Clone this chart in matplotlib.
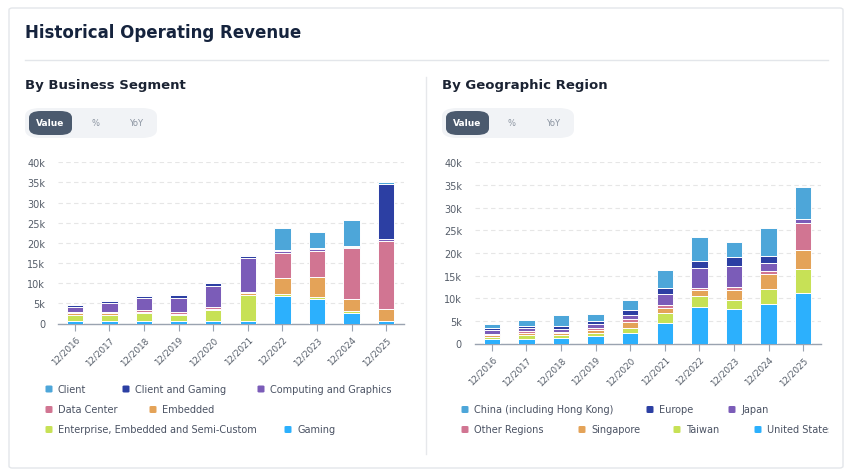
import matplotlib
matplotlib.use("Agg")
import matplotlib.pyplot as plt
from matplotlib.patches import FancyBboxPatch
from matplotlib.lines import Line2D
from matplotlib.ticker import FuncFormatter, MultipleLocator

plt.rcParams['font.family'] = ['DejaVu Sans']

W, H = 852, 477

years = ['12/2016', '12/2017', '12/2018', '12/2019', '12/2020',
         '12/2021', '12/2022', '12/2023', '12/2024', '12/2025']

# business segment, in thousands (k)
gaming        = [0.6, 0.6, 0.6, 0.6, 0.6, 0.65, 6.8, 6.0, 2.6, 0.65]
enterprise    = [1.4, 1.5, 1.9, 1.4, 2.65, 6.35, 0.6, 0.6, 0.5, 0.0]
embedded      = [0.5, 0.5, 0.45, 0.45, 0.45, 0.45, 3.85, 5.0, 3.0, 2.85]
data_center   = [0.25, 0.3, 0.3, 0.3, 0.3, 0.35, 6.25, 6.5, 12.55, 16.9]
comp_graphics = [1.4, 2.2, 3.1, 3.65, 5.4, 8.4, 0.4, 0.35, 0.3, 0.5]
client_gaming = [0.45, 0.5, 0.55, 0.6, 0.65, 0.6, 0.35, 0.3, 0.3, 13.7]
client        = [0.1, 0.2, 0.1, 0.2, 0.15, 0.1, 5.45, 3.95, 6.55, 0.6]

# geographic region, in thousands (k)
united_states = [0.9, 1.1, 1.2, 1.7, 2.35, 4.5, 8.1, 7.7, 8.7, 11.25]
taiwan        = [0.6, 0.75, 0.65, 0.65, 1.1, 2.2, 2.3, 1.9, 3.3, 5.15]
singapore     = [0.3, 0.45, 0.4, 0.6, 1.25, 1.2, 1.3, 2.2, 3.4, 4.3]
other_regions = [0.25, 0.4, 0.35, 0.55, 0.6, 0.55, 0.65, 0.7, 0.6, 6.0]
japan         = [0.9, 0.7, 0.7, 0.75, 1.1, 2.5, 4.35, 4.5, 1.7, 0.7]
europe        = [0.55, 0.5, 0.6, 0.65, 1.0, 1.4, 1.6, 2.2, 1.7, 0.1]
china         = [0.75, 1.25, 2.4, 1.7, 2.3, 3.9, 5.15, 3.2, 6.1, 7.1]

c_blue = '#4da6d9'
c_navy = '#2c3fa3'
c_purple = '#7b5cb8'
c_pink = '#d17592'
c_orange = '#e4a358'
c_lime = '#c7e156'
c_sky = '#2cb0fd'

seg_names = ['Client', 'Client and Gaming', 'Computing and Graphics', 'Data Center',
             'Embedded', 'Enterprise, Embedded and Semi-Custom', 'Gaming']
seg_vals = [client, client_gaming, comp_graphics, data_center, embedded, enterprise, gaming]
reg_names = ['China (including Hong Kong)', 'Europe', 'Japan', 'Other Regions',
             'Singapore', 'Taiwan', 'United States']
reg_vals = [china, europe, japan, other_regions, singapore, taiwan, united_states]
colors = [c_blue, c_navy, c_purple, c_pink, c_orange, c_lime, c_sky]

fig = plt.figure(figsize=(W / 100, H / 100), dpi=100)
fig.patch.set_facecolor('white')

def fx(px):
    return px / W

def fy(py):
    return 1 - py / H

# card border
fig.patches.append(FancyBboxPatch((fx(9), fy(469)), fx(834), 460 / H,
                                  boxstyle='round,pad=0,rounding_size=0.004',
                                  transform=fig.transFigure, fc='none', ec='#e3e6ea', lw=1))
fig.text(fx(25), fy(33), 'Historical Operating Revenue', fontsize=12, fontweight='bold',
         color='#15233d', va='center')
fig.add_artist(Line2D([fx(25), fx(828)], [fy(61), fy(61)], color='#e3e6ea', lw=1))
fig.add_artist(Line2D([fx(426), fx(426)], [fy(78), fy(455)], color='#e6e8eb', lw=1))


def panel(x0, title, left, zero_y, names, vals, legend_pos):
    fig.text(fx(x0), fy(85), title, fontsize=9.5, fontweight='bold', color='#1b2333', va='center')
    # toggle
    fig.patches.append(FancyBboxPatch((fx(x0), fy(139)), fx(132), 30 / H,
                                      boxstyle='round,pad=0,rounding_size=0.018',
                                      transform=fig.transFigure, fc='#f1f3f6', ec='none'))
    fig.patches.append(FancyBboxPatch((fx(x0 + 4), fy(136)), fx(43), 24 / H,
                                      boxstyle='round,pad=0,rounding_size=0.014',
                                      transform=fig.transFigure, fc='#4b5a6e', ec='none'))
    fig.text(fx(x0 + 25.5), fy(124), 'Value', fontsize=6.5, fontweight='bold', color='white',
             ha='center', va='center')
    fig.text(fx(x0 + 70), fy(124), '%', fontsize=6, color='#8a93a0', ha='center', va='center')
    fig.text(fx(x0 + 111), fy(124), 'YoY', fontsize=6, color='#8a93a0', ha='center', va='center')

    ax = fig.add_axes([fx(left), fy(zero_y), fx(346), (zero_y - 163.3) / H])
    ax.set_facecolor('none')
    x = list(range(len(years)))
    bottom = [0.0] * len(years)
    for name, v, col in zip(names[::-1], vals[::-1], colors[::-1]):
        ax.bar(x, v, 0.47, bottom=bottom, color=col, edgecolor='white', linewidth=0.7, zorder=3)
        bottom = [b + a for b, a in zip(bottom, v)]
    ax.set_xlim(-0.5, 9.5)
    ax.set_ylim(0, 40)
    ax.yaxis.set_major_locator(MultipleLocator(5))
    ax.yaxis.set_major_formatter(FuncFormatter(lambda v, p: '0' if v == 0 else '%dk' % v))
    ax.grid(axis='y', color='#e6e6e6', linestyle=(0, (4, 3)), lw=0.8, zorder=0)
    for s in ['top', 'right', 'left']:
        ax.spines[s].set_visible(False)
    ax.spines['bottom'].set_color('#9aa3b0')
    ax.spines['bottom'].set_linewidth(1)
    ax.set_xticks(x)
    ax.set_xticklabels(years, rotation=45, ha='right', rotation_mode='anchor',
                       fontsize=6.3, color='#555d69')
    ax.tick_params(axis='x', length=5, color='#9aa3b0', pad=3)
    ax.tick_params(axis='y', length=0, labelsize=7, labelcolor='#555d69', pad=9)

    for (mx, my), name, col in zip(legend_pos, names, colors):
        fig.patches.append(FancyBboxPatch((fx(mx - 3.5), fy(my + 3.5)), fx(7), 7 / H,
                                          boxstyle='round,pad=0,rounding_size=0.002',
                                          transform=fig.transFigure, fc=col, ec='none'))
        fig.text(fx(mx + 9), fy(my), name, fontsize=7, color='#4a5263', va='center')
    return ax


panel(25, 'By Business Segment', 57.5, 324.5, seg_names, seg_vals,
      [(49, 390), (126, 390), (261, 390), (49, 410.5), (153, 410.5), (49, 430.5), (288, 430.5)])
panel(442, 'By Geographic Region', 474.5, 344.5, reg_names, reg_vals,
      [(465, 410.5), (650, 410.5), (732, 410.5), (465, 430.5), (582, 430.5), (677, 430.5),
       (758, 430.5)])

# cover the clipped tail of the last legend entry
fig.patches.append(plt.Rectangle((fx(829), fy(445)), fx(13), 30 / H, transform=fig.transFigure,
                                 fc='white', ec='none', zorder=10))

fig.savefig('out.png', dpi=100)
